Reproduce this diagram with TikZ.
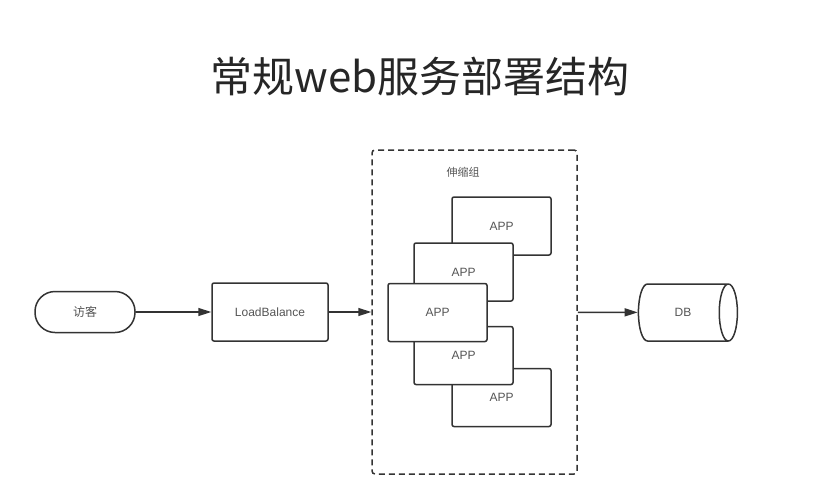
\documentclass[tikz,border=0pt]{standalone}
\usepackage{fontspec}
\setmainfont{Liberation Sans}
\newfontfamily\cjk{Noto Sans CJK SC}
\usetikzlibrary{arrows.meta,positioning,shapes.geometric}
\definecolor{inkgray}{HTML}{333333}
\definecolor{textgray}{HTML}{555555}

\begin{document}
\begin{tikzpicture}[
    x=1pt, y=-1pt,
    font=\fontsize{12}{14}\selectfont,
    >={Triangle[length=13pt, width=8pt]},
    line/.style={draw=inkgray, line width=1.5pt},
    box/.style={line, rounded corners=2pt, fill=white, text=textgray, inner sep=0pt},
    appbox/.style={box, minimum width=99pt, minimum height=58pt},
    group/.style={draw=inkgray, line width=1.5pt, dash pattern=on 6pt off 4pt, rounded corners=3pt, inner sep=0pt},
]
    \useasboundingbox (0,0) rectangle (832,490);

    % --- Title ---
    \node[font=\cjk\fontsize{42}{46}\selectfont, text=black!85] (title) at (420, 76) {常规web服务部署结构};

    % --- Visitor and load balancer ---
    \node[box, rounded corners=20pt, minimum width=100pt, minimum height=41pt, font=\cjk\fontsize{12}{14}\selectfont] (visitor) at (85, 312) {访客};
    \node[box, minimum width=116pt, minimum height=58pt] (lb) at (270, 312) {LoadBalance};

    % --- Scaling group ---
    \node[group, minimum width=205pt, minimum height=324pt] (grp) at (474.5, 312) {};
    \node[font=\cjk\fontsize{11}{13}\selectfont, text=textgray] (grplabel) at (463, 172) {伸缩组};

    % stacked app boxes (back to front)
    \node[appbox] (app1) at (501.5, 226) {APP};
    \node[appbox] (app5) at (501.5, 397.5) {APP};
    \node[appbox] (app2) at (463.5, 272) {APP};
    \node[appbox] (app4) at (463.5, 355.5) {APP};
    \node[appbox] (app3) at (437.5, 312.5) {APP};

    % --- Database ---
    \node[cylinder, shape border rotate=0, aspect=2.2, line, minimum width=57pt, minimum height=99pt, text=textgray, inner sep=0pt] (db) at (683, 312.5) {DB};

    % --- Connections ---
    \draw[line, ->] (visitor) -- (lb);
    \draw[line, ->] (lb) -- (grp);
    \draw[line, ->] (grp) -- (db);

\end{tikzpicture}
\end{document}
